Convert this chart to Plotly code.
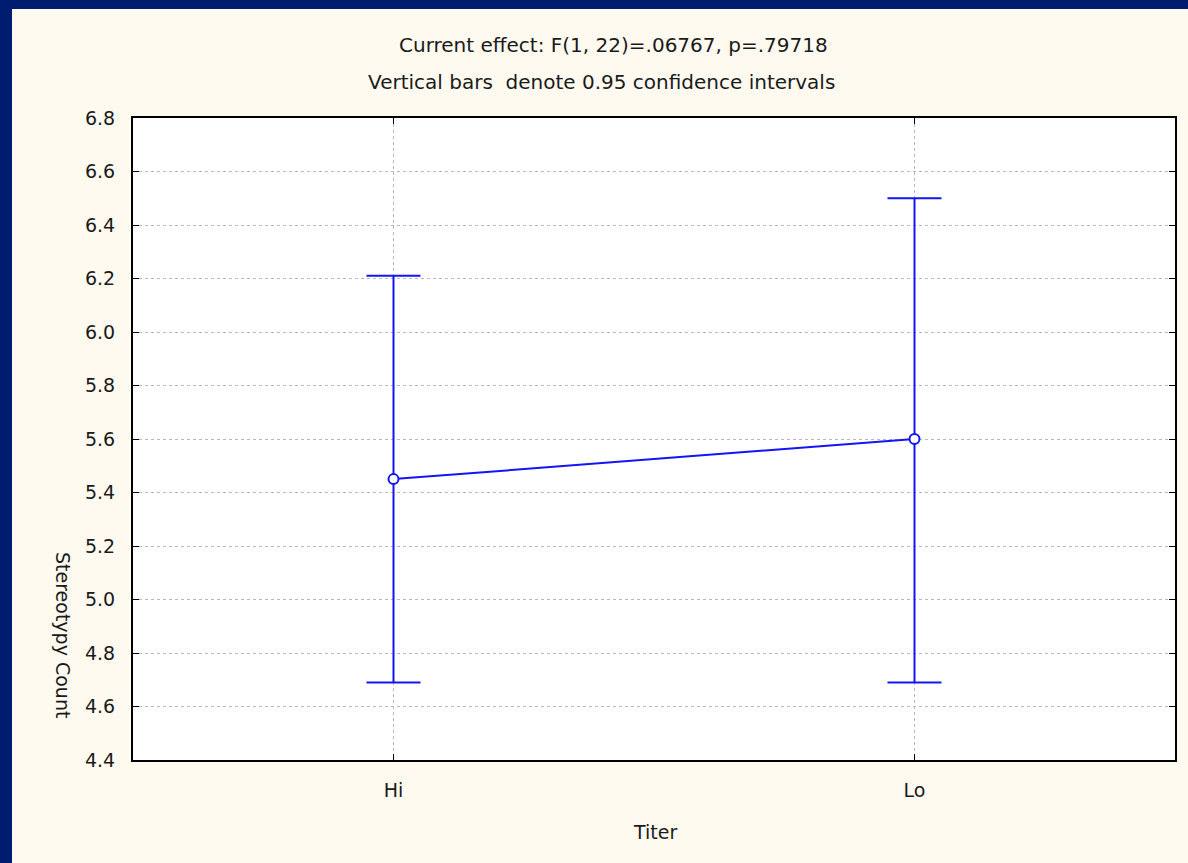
import plotly.graph_objects as go

# Data
categories = ["Hi", "Lo"]
means = [5.45, 5.60]
ci_upper = [6.21, 6.50]
ci_lower = [4.69, 4.69]
y_ticks = [4.4, 4.6, 4.8, 5.0, 5.2, 5.4, 5.6, 5.8, 6.0, 6.2, 6.4, 6.6, 6.8]

title_line1 = "Current effect: F(1, 22)=.06767, p=.79718"
title_line2 = "Vertical bars  denote 0.95 confidence intervals"
x_title = "Titer"
y_title = "Stereotypy Count"

W, H = 1188, 863
L, R, T, B = 133, 13, 118, 103
pw, ph = W - L - R, H - T - B


def px_x(px):
    return (px - L) / pw


def px_y(py):
    return (H - B - py) / ph


BLUE = "#1414f5"
FONT = "DejaVu Sans"

err_plus = [u - m for u, m in zip(ci_upper, means)]
err_minus = [m - l for m, l in zip(means, ci_lower)]

fig = go.Figure()
fig.add_trace(go.Scatter(
    x=categories, y=means, mode="lines+markers",
    line=dict(color=BLUE, width=2),
    marker=dict(symbol="circle", size=10, color="white", line=dict(color=BLUE, width=2)),
    error_y=dict(type="data", symmetric=False, array=err_plus, arrayminus=err_minus,
                 color=BLUE, thickness=2, width=27),
    showlegend=False,
))

fig.update_layout(
    width=W, height=H,
    margin=dict(l=L, r=R, t=T, b=B, pad=0),
    paper_bgcolor="#fffaf0",
    plot_bgcolor="white",
    font=dict(family=FONT, color="#1a1a1a", size=19),
    xaxis=dict(
        type="category", range=[-0.5, 1.5],
        showline=True, linecolor="black", linewidth=2, mirror="ticks",
        ticks="inside", ticklen=6, tickcolor="black", tickwidth=1,
        showgrid=True, gridcolor="#b8b8b8", gridwidth=1, griddash="dot",
        tickfont=dict(size=19), zeroline=False, ticklabelstandoff=12,
    ),
    yaxis=dict(
        range=[4.4, 6.8], tickvals=y_ticks, ticktext=[f"{v:.1f}" for v in y_ticks],
        showline=True, linecolor="black", linewidth=2, mirror="ticks",
        ticks="inside", ticklen=6, tickcolor="black", tickwidth=1,
        showgrid=True, gridcolor="#b8b8b8", gridwidth=1, griddash="dot",
        tickfont=dict(size=19), zeroline=False, ticklabelstandoff=12,
    ),
    shapes=[
        dict(type="rect", xref="paper", yref="paper", layer="below",
             x0=px_x(-5), x1=px_x(W + 5), y0=px_y(9), y1=px_y(-5),
             fillcolor="#001c70", line=dict(width=0)),
        dict(type="rect", xref="paper", yref="paper", layer="below",
             x0=px_x(-5), x1=px_x(12), y0=px_y(H + 5), y1=px_y(-5),
             fillcolor="#001c70", line=dict(width=0)),
    ],
    annotations=[
        dict(text=title_line1, xref="paper", yref="paper", x=px_x(613), y=px_y(45),
             xanchor="center", yanchor="middle", showarrow=False, font=dict(size=20)),
        dict(text=title_line2, xref="paper", yref="paper", x=px_x(601), y=px_y(82),
             xanchor="center", yanchor="middle", showarrow=False, font=dict(size=20)),
        dict(text=x_title, xref="paper", yref="paper", x=px_x(655), y=px_y(832),
             xanchor="center", yanchor="middle", showarrow=False, font=dict(size=19)),
        dict(text=y_title, xref="paper", yref="paper", x=px_x(63), y=px_y(635),
             xanchor="center", yanchor="middle", showarrow=False, textangle=90,
             font=dict(size=19)),
    ],
)

fig.write_html("out.html")
